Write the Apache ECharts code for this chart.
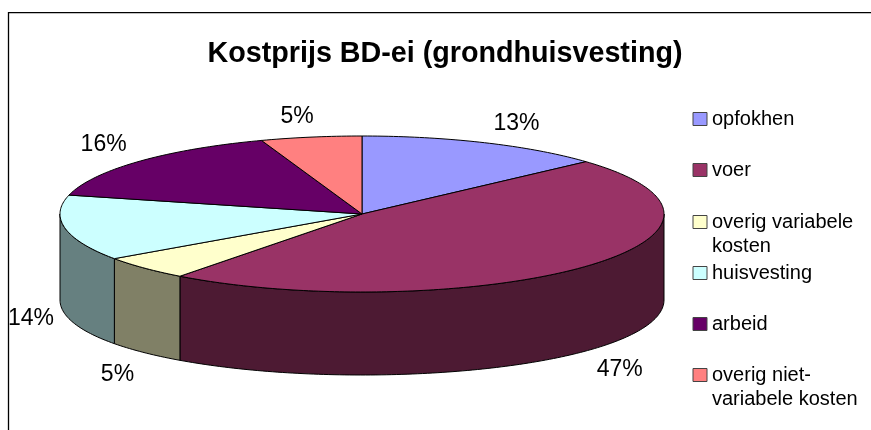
<!DOCTYPE html>
<html>
<head>
<meta charset="utf-8">
<style>
  html, body { margin: 0; padding: 0; background: #fff; }
  #chart { width: 871px; height: 430px; }
</style>
<script src="https://cdn.jsdelivr.net/npm/echarts@6/dist/echarts.min.js"></script>
</head>
<body>
<div id="chart"></div>
<script>
  var categories = ['opfokhen', 'voer', 'overig variabele kosten', 'huisvesting', 'arbeid', 'overig niet-variabele kosten'];
  var shares = [13.3, 47, 5, 13.6, 15.7, 5.4];
  var tickLabels = ['13%', '47%', '5%', '14%', '16%', '5%'];

  var topColors = ['#9999ff', '#993366', '#ffffcc', '#ccffff', '#660066', '#ff8080'];
  var sideColors = ['#4d4d80', '#4d1a33', '#808066', '#668080', '#330033', '#804040'];
  // label shift from the rim point of the slice middle
  var labelShift = [[32, -19], [35, 20], [-27, 24], [-34, 8], [-35, -17], [-14, -20]];
  var legendTops = [107, 158, 186, 261, 312, 339];
  // blank first line keeps the symbol level with the first real line
  var legendText = {2: ' \noverig variabele\nkosten', 5: ' \noverig niet-\nvariabele kosten'};

  var cx = 362, cy = 214, rx = 302, ry = 78, depth = 83;
  var total = shares.reduce(function (a, b) { return a + b; }, 0);

  function rim(deg, drop) {
    var r = deg * Math.PI / 180;
    return [cx + rx * Math.sin(r), cy - ry * Math.cos(r) + (drop || 0)];
  }
  function arc(from, to, drop) {
    var pts = [];
    var n = Math.max(2, Math.ceil(Math.abs(to - from)));
    for (var i = 0; i <= n; i++) {
      var deg = from + (to - from) * i / n;
      // wall looks a bit taller at the far left and right
      var extra = drop ? 3 * Math.pow(Math.sin(deg * Math.PI / 180), 2) : 0;
      pts.push(rim(deg, drop + extra));
    }
    return pts;
  }

  function renderSlice(idx) {
    return function () {
      var before = shares.slice(0, idx).reduce(function (a, b) { return a + b; }, 0);
      var start = before / total * 360;
      var end = (before + shares[idx]) / total * 360;
      var children = [];

      // the wall only shows on the front half of the disc
      var wallFrom = Math.max(start, 90), wallTo = Math.min(end, 270);
      if (wallTo > wallFrom) {
        children.push({
          type: 'polygon',
          shape: { points: arc(wallFrom, wallTo, 0).concat(arc(wallTo, wallFrom, depth)) },
          style: { fill: sideColors[idx], stroke: '#000', lineWidth: 1 }
        });
      }
      children.push({
        type: 'polygon',
        shape: { points: [[cx, cy]].concat(arc(start, end, 0)) },
        style: { fill: topColors[idx], stroke: '#000', lineWidth: 1 }
      });

      var middle = (start + end) / 2;
      var mid = rim(middle, middle > 90 && middle < 270 ? depth : 0);
      children.push({
        type: 'text',
        style: {
          x: mid[0] + labelShift[idx][0],
          y: mid[1] + labelShift[idx][1],
          text: tickLabels[idx],
          align: 'center',
          verticalAlign: 'middle',
          fill: '#000',
          font: '23px "Liberation Sans", Arial, sans-serif'
        }
      });
      return { type: 'group', children: children };
    };
  }

  var series = categories.map(function (name, i) {
    return {
      type: 'custom',
      name: name,
      coordinateSystem: 'none',
      silent: true,
      itemStyle: { color: topColors[i] },
      data: [shares[i]],
      renderItem: renderSlice(i)
    };
  });

  var legends = categories.map(function (name, i) {
    return {
      data: [name],
      left: 692.5,
      top: legendTops[i],
      icon: 'rect',
      itemWidth: 14,
      itemHeight: 13,
      selectedMode: false,
      padding: 0,
      itemStyle: { borderColor: '#444', borderWidth: 1 },
      formatter: function (n) { return legendText[i] || n; },
      textStyle: {
        fontFamily: '"Liberation Sans", Arial, sans-serif',
        fontSize: 20,
        lineHeight: 24,
        color: '#000'
      }
    };
  });

  var chart = echarts.init(document.getElementById('chart'));
  chart.setOption({
    animation: false,
    backgroundColor: '#fff',
    title: {
      text: 'Kostprijs BD-ei (grondhuisvesting)',
      left: 440,
      top: 35,
      textAlign: 'center',
      textStyle: {
        fontFamily: '"Liberation Sans", Arial, sans-serif',
        fontSize: 28.7,
        fontWeight: 'bold',
        color: '#000'
      }
    },
    legend: legends,
    series: series,
    graphic: [{
      type: 'polyline',
      shape: { points: [[8.5, 430], [8.5, 12.7], [871, 12.7]] },
      style: { stroke: '#000', lineWidth: 1.3, fill: null }
    }]
  });
</script>
</body>
</html>
